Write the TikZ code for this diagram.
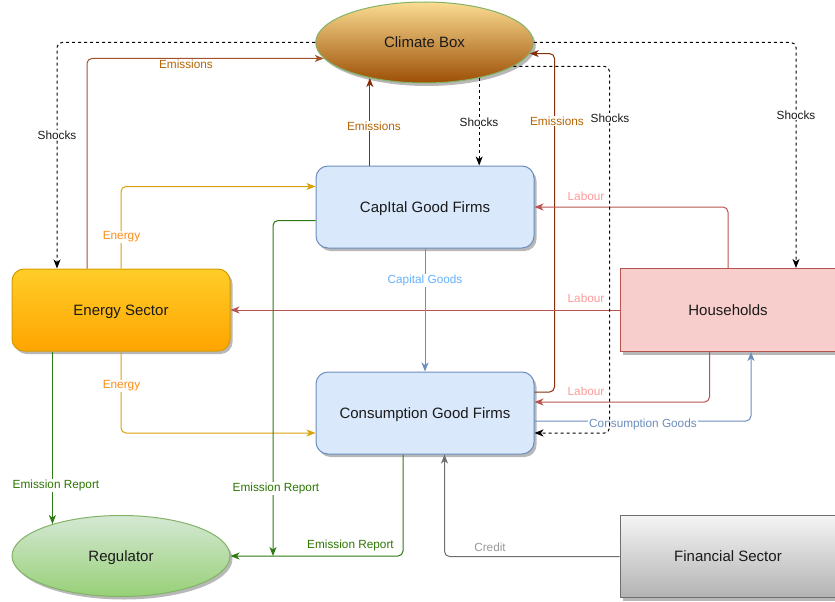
\documentclass[tikz,border=0pt]{standalone}
\usepackage{fontspec}
\setmainfont{Liberation Sans}
\usetikzlibrary{arrows.meta,shapes.geometric,shadows,calc}
\definecolor{txt}{HTML}{1A1A1A}
\definecolor{bluefill}{HTML}{DAE8FC}
\definecolor{blueline}{HTML}{6C8EBF}
\definecolor{redfill}{HTML}{F8CECC}
\definecolor{redline}{HTML}{B85450}
\definecolor{redlbl}{HTML}{FF9999}
\definecolor{greenline}{HTML}{82B366}
\definecolor{erline}{HTML}{2D7A12}
\definecolor{erlbl}{HTML}{2D7600}
\definecolor{emisA}{HTML}{A0522D}
\definecolor{emisB}{HTML}{862E0C}
\definecolor{emislbl}{HTML}{B46504}
\definecolor{enline}{HTML}{D9A20C}
\definecolor{enlbl}{HTML}{FF8C1A}
\definecolor{entop}{HTML}{FFCD28}
\definecolor{enbot}{HTML}{FFA500}
\definecolor{enborder}{HTML}{D79B00}
\definecolor{caplbl}{HTML}{66B2FF}
\definecolor{credline}{HTML}{6E6E6E}
\definecolor{credlbl}{HTML}{999999}
\tikzset{
  shad/.style={drop shadow={shadow xshift=2.5pt,shadow yshift=-3pt,opacity=0.28,fill=black}},
  nodetext/.style={font=\fontsize{15}{18}\selectfont,text=txt,inner sep=0pt,text height=12pt,text depth=1.3pt},
  rbox/.style={nodetext,shad,rectangle,rounded corners=12pt,draw=blueline,fill=bluefill,line width=1pt,minimum width=218pt,minimum height=82pt},
  energybox/.style={nodetext,shad,rectangle,rounded corners=12pt,draw=enborder,top color=entop,bottom color=enbot,line width=1pt,minimum width=218pt,minimum height=82pt},
  hhbox/.style={nodetext,shad,rectangle,draw=redline,fill=redfill,line width=1pt,minimum width=216pt,minimum height=83pt},
  finbox/.style={nodetext,shad,rectangle,draw=credline,top color=black!4,bottom color=black!30,line width=1pt,minimum width=216pt,minimum height=82pt},
  climell/.style={nodetext,shad,ellipse,draw=greenline,top color={rgb,255:red,250;green,220;blue,146},bottom color={rgb,255:red,156;green,79;blue,5},line width=1pt,minimum width=217.6pt,minimum height=81pt},
  regell/.style={nodetext,shad,ellipse,draw=greenline,top color={rgb,255:red,213;green,232;blue,212},bottom color={rgb,255:red,151;green,208;blue,119},line width=1pt,minimum width=218pt,minimum height=81pt},
  conn/.style={line width=1pt,rounded corners=5pt,-{Stealth[length=9pt,width=7pt,inset=2.5pt]}},
  shock/.style={conn,draw=black,dash pattern=on 3pt off 3pt},
  emisa/.style={conn,draw=emisA},
  emisb/.style={conn,draw=emisB},
  enedge/.style={conn,draw=enline},
  labedge/.style={conn,draw=redline},
  bluedge/.style={conn,draw=blueline},
  eredge/.style={conn,draw=erline},
  credge/.style={conn,draw=credline},
  lbl/.style={font=\fontsize{11.8}{14}\selectfont,inner sep=1pt},
  lblw/.style={lbl,fill=white}
}
\begin{document}
\begin{tikzpicture}[x=1pt,y=-1pt]
\useasboundingbox (0,0) rectangle (835,602);

% nodes
\node[climell] (climate) at (424.5,42.5) {Climate Box};
\node[rbox] (cap) at (425,207) {CapItal Good Firms};
\node[rbox] (cons) at (425,413) {Consumption Good Firms};
\node[energybox] (energy) at (121,310) {Energy Sector};
\node[hhbox] (hh) at (728,310) {Households};
\node[regell] (reg) at (121,556) {Regulator};
\node[finbox] (fin) at (728,556.5) {Financial Sector};

\coordinate (erj) at (273,556);

% emissions
\draw[emisa] (energy.north -| 87,0) |- (climate.189);
\draw[emisb] (cap.north -| climate.213) -- (climate.213);
\draw[emisb] (cons.east |- 0,392) -| (climate.-6 -| 554.5,0) -- (climate.-6);

% energy
\draw[enedge] (energy.north) |- (cap.west |- 0,186.5);
\draw[enedge] (energy.south) |- (cons.west |- 0,433);

% labour
\draw[labedge] (hh.north) |- (cap.east);
\draw[labedge] (hh.west) -- (energy.east);
\draw[labedge] (hh.south -| 709.5,0) |- (cons.east |- 0,402);

% goods
\draw[bluedge] (cap.south) -- (cons.north);
\draw[bluedge] (cons.east |- 0,421) -| (hh.south -| 751,0);

% emission reports
\draw[eredge] (energy.south -| reg.155) -- (reg.155);
\draw[eredge] (cap.west |- 0,220.5) -| (erj);
\draw[eredge] (cons.south -| 403,0) |- (reg.east);

% credit
\draw[credge] (fin.west) -| (cons.south -| 444.5,0);

% labels
\node[lbl,text=emislbl] (le1) at (186,64) {Emissions};
\node[lblw,text=emislbl] (le2) at (374,126) {Emissions};
\node[lblw,text=emislbl] (le3) at (557,121) {Emissions};
\node[lblw,text=enlbl] (len1) at (121.5,237) {Energy};
\node[lblw,text=enlbl] (len2) at (121.5,386) {Energy};
\node[lbl,text=redlbl] (ll1) at (586,196) {Labour};
\node[lbl,text=redlbl] (ll2) at (586,298) {Labour};
\node[lbl,text=redlbl] (ll3) at (586,391) {Labour};
\node[lblw,text=caplbl] (lcg) at (425,280) {Capital Goods};
\node[lblw,text=blueline] (lcsg) at (643,424) {Consumption Goods};
\node[lblw,text=erlbl] (ler1) at (56,485) {Emission Report};
\node[lblw,text=erlbl] (ler2) at (276,488) {Emission Report};
\node[lbl,text=erlbl] (ler3) at (350.5,545) {Emission Report};
\node[lbl,text=credlbl] (lcr) at (490,547) {Credit};

% shocks
\draw[shock] (climate.west) -| (energy.north -| 57,0);
\draw[shock] (climate.-33) -- (climate.-33 |- cap.north);
\draw[shock] (climate.-15) -| ($(cons.east |- 0,433)+(75,0)$) -- (cons.east |- 0,433);
\draw[shock] (climate.east) -| (hh.north -| 796,0);

\node[lblw,text=txt] (ls1) at (57,135) {Shocks};
\node[lblw,text=txt] (ls2) at (479,122) {Shocks};
\node[lblw,text=txt] (ls3) at (610,118) {Shocks};
\node[lblw,text=txt] (ls4) at (796,115) {Shocks};
\end{tikzpicture}
\end{document}
